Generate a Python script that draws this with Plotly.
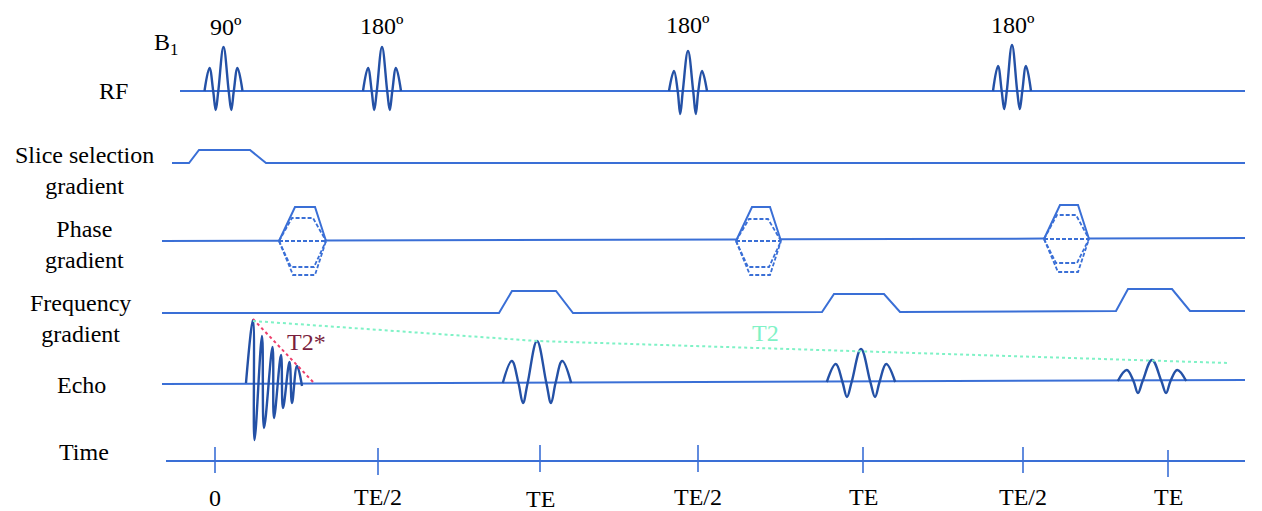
import plotly.graph_objects as go

# ---------------- data (pixel-space schematic values) ----------------
row_labels = ["RF", "Slice selection<br>gradient", "Phase<br>gradient",
              "Frequency<br>gradient", "Echo", "Time"]
row_label_x = [113, 84, 84, 80, 81, 84]
row_label_y = [91, 170, 244, 318, 385, 452]

# RF pulses
rf_base_y = 91
rf_line_x = [180, 1245]
rf_center = [223.5, 382, 688, 1012]
rf_main = [44, 44, 40, 46]
rf_side = [23, 23, 20, 25]
rf_trough = [19, 19, 23, 18]
rf_flip = ["90º", "180º", "180º", "180º"]
rf_flip_x = [226, 382, 688, 1013]
rf_flip_y = [27, 26, 25, 25]

# relative lobe template of a pulse / echo (offsets and lobe type)
lobe_dx = [-19, -14, -10.3, -7.8, -5.2, 0, 5.2, 7.8, 10.3, 14, 19]
lobe_kind = ["0", "s", "0", "t", "0", "m", "0", "t", "0", "s", "0"]
echo_stretch = 1.8

# Slice selection gradient
slice_x = [172, 189, 199, 250, 266, 1245]
slice_y = [163, 163, 150, 150, 163, 163]

# Phase gradient blips
phase_line_x = [162, 1245]
phase_line_y = [241, 238]
phase_left = [279, 736, 1044]
phase_right = [326, 781, 1089]
phase_base = [241, 241, 239]
phase_outer_top = [207, 207, 205]
phase_inner_top = [218, 219, 215]
phase_inner_bot = [267, 267, 263]
phase_outer_bot = [275, 275, 272]

# Frequency gradient
freq_x = [162, 499, 512, 556, 573, 822, 834, 884, 900, 1116, 1128, 1172, 1190, 1245]
freq_y = [313, 313, 291, 291, 313, 312, 294, 294, 312, 311, 289, 289, 311, 311]

# Echo line
echo_line_x = [162, 1245]
echo_line_y = [384, 380]
fid_x = [246, 253, 254.5, 262, 264, 272.5, 274, 281, 283, 289.5, 292, 297, 302]
fid_y = [383, 320, 440, 336, 428, 347, 418, 355, 408, 362, 403, 366, 386]
echo_center = [537, 861, 1152]
echo_base = [383, 382, 381]
echo_main = [42, 33, 21]
echo_side = [22, 18, 11]
echo_trough = [20, 15, 12]

# decay envelopes
t2s_x = [253, 314]
t2s_y = [319, 383]
t2_x = [253, 537, 1228]
t2_y = [321, 341, 363]

# Time axis
time_line_x = [166, 1245]
time_line_y = 461
tick_x = [215, 378, 540, 698, 863, 1023, 1168]
tick_top = [447, 448, 445, 445, 447, 447, 450]
tick_bot = [473, 475, 472, 472, 473, 473, 477]
tick_text = ["0", "TE/2", "TE", "TE/2", "TE", "TE/2", "TE"]
tick_label_y = [498, 497, 499, 497, 497, 497, 497]

# ---------------- styles ----------------
BASE = "#3a6fd6"
PULSE = "#2451a6"
RED = "#ee3f6c"
GREEN = "#7ff2c6"
FONT = "Liberation Serif, Times New Roman, serif"
FS = 24

fig = go.Figure()


def add_line(x, y, color=BASE, width=2, dash=None, shape="linear"):
    fig.add_trace(go.Scatter(x=x, y=y, mode="lines", hoverinfo="skip",
                             line=dict(color=color, width=width, dash=dash, shape=shape,
                                       smoothing=1.1 if shape == "spline" else None),
                             showlegend=False))


def lobes(center, base, m, s, t, stretch):
    xs, ys = [], []
    for dx, k in zip(lobe_dx, lobe_kind):
        xs.append(center + dx * stretch)
        amp = {"0": 0, "s": s, "t": -t, "m": m}[k]
        ys.append(base - amp)
    return xs, ys


# RF
add_line(rf_line_x, [rf_base_y, rf_base_y])
for c, m, s, t in zip(rf_center, rf_main, rf_side, rf_trough):
    xs, ys = lobes(c, rf_base_y, m, s, t, 1.0)
    add_line(xs, ys, color=PULSE, width=2.4, shape="spline")

# Slice selection
add_line(slice_x, slice_y)

# Phase gradient: baseline broken at blips
px, py = [], []
x0 = phase_line_x[0]
slope = (phase_line_y[1] - phase_line_y[0]) / (phase_line_x[1] - phase_line_x[0])
for L, R in zip(phase_left, phase_right):
    px += [x0, L, None]
    py += [phase_line_y[0] + slope * (x0 - phase_line_x[0]),
           phase_line_y[0] + slope * (L - phase_line_x[0]), None]
    x0 = R
px += [x0, phase_line_x[1]]
py += [phase_line_y[0] + slope * (x0 - phase_line_x[0]), phase_line_y[1]]
add_line(px, py)

for L, R, b, ot, it, ib, ob in zip(phase_left, phase_right, phase_base, phase_outer_top,
                                   phase_inner_top, phase_inner_bot, phase_outer_bot):
    add_line([L, L + 16, R - 11, R], [b, ot, ot, b])
    dx_, dy_ = [], []
    for lev, inset_l, inset_r in [(it, 13, 13), (ib, 12, 12), (ob, 14, 11)]:
        dx_ += [L, L + inset_l, R - inset_r, R, None]
        dy_ += [b, lev, lev, b, None]
    dx_ += [L, R]
    dy_ += [b, b]
    add_line(dx_, dy_, width=1.8, dash="4px,2px")

# Frequency gradient
add_line(freq_x, freq_y)

# Echo
add_line(echo_line_x, echo_line_y)
add_line(fid_x, fid_y, color=PULSE, width=2.4, shape="spline")
for c, b, m, s, t in zip(echo_center, echo_base, echo_main, echo_side, echo_trough):
    xs, ys = lobes(c, b, m, s, t, echo_stretch)
    add_line(xs, ys, color=PULSE, width=2.4, shape="spline")

# decay envelopes
add_line(t2s_x, t2s_y, color=RED, width=2, dash="dot")
add_line(t2_x, t2_y, color=GREEN, width=2, dash="dot")

# Time axis
add_line(time_line_x, [time_line_y, time_line_y])
tx, ty = [], []
for x, a, b in zip(tick_x, tick_top, tick_bot):
    tx += [x, x, None]
    ty += [a, b, None]
add_line(tx, ty, width=1.6)


# ---------------- text ----------------
def ann(x, y, text, color="black", size=FS):
    fig.add_annotation(x=x, y=y, xref="x", yref="y", text=text, showarrow=False,
                       xanchor="center", yanchor="middle",
                       font=dict(family=FONT, size=size, color=color))


for t, x, y in zip(row_labels, row_label_x, row_label_y):
    ann(x, y, t)
for t, x, y in zip(rf_flip, rf_flip_x, rf_flip_y):
    ann(x, y, t)
ann(166, 44, "B<sub>1</sub>")
ann(306, 342, "T2*", color="#7a1f3e")
ann(765, 333, "T2", color=GREEN)
for t, x, y in zip(tick_text, tick_x, tick_label_y):
    ann(x, y, t)

fig.update_layout(
    width=1262, height=511,
    margin=dict(l=0, r=0, t=0, b=0),
    paper_bgcolor="white", plot_bgcolor="white",
    font=dict(family=FONT),
    xaxis=dict(range=[0, 1262], visible=False, fixedrange=True),
    yaxis=dict(range=[511, 0], visible=False, fixedrange=True),
    showlegend=False,
)

fig.write_html("out.html", config={"displayModeBar": False},
               post_script="document.body.style.margin='0';document.body.style.overflow='hidden';")
